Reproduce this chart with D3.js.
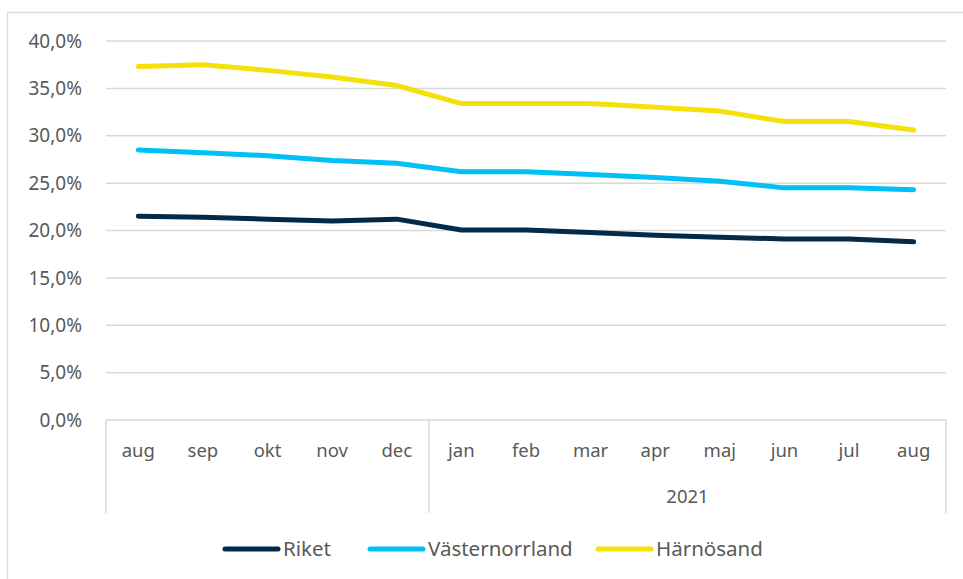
<!DOCTYPE html>
<html>
<head>
<meta charset="utf-8">
<script src="https://cdn.jsdelivr.net/npm/d3@7"></script>
<style>
  body { margin: 0; background: #fff; }
  text { font-family: "Noto Sans", "Open Sans", sans-serif; fill: #595959; }
</style>
</head>
<body>
<svg id="chart"></svg>
<script>
// --- Data ---
const months = ["aug", "sep", "okt", "nov", "dec", "jan", "feb", "mar", "apr", "maj", "jun", "jul", "aug"];
const yearGroups = [
  { label: "", start: 0, end: 5 },
  { label: "2021", start: 5, end: 13 }
];
const riket = [21.5, 21.4, 21.2, 21.0, 21.2, 20.05, 20.05, 19.8, 19.5, 19.3, 19.1, 19.1, 18.8];
const vasternorrland = [28.5, 28.2, 27.9, 27.4, 27.1, 26.2, 26.2, 25.9, 25.6, 25.2, 24.5, 24.5, 24.3];
const harnosand = [37.3, 37.5, 36.9, 36.2, 35.3, 33.4, 33.4, 33.4, 33.0, 32.6, 31.5, 31.5, 30.6];
const yTicks = [0, 5, 10, 15, 20, 25, 30, 35, 40];

const series = [
  { name: "Riket", values: riket, color: "#032a48" },
  { name: "Västernorrland", values: vasternorrland, color: "#00c1f5" },
  { name: "Härnösand", values: harnosand, color: "#f5e00a" }
];

// --- Setup ---
const width = 963, height = 579;
const plot = { left: 106, right: 946, top: 41, bottom: 420 };
const catBottom = 513;

const svg = d3.select("#chart").attr("width", width).attr("height", height);

// outer chart border
svg.append("rect")
  .attr("x", 7.5).attr("y", 12.5)
  .attr("width", 1000).attr("height", 700)
  .attr("fill", "none").attr("stroke", "#d9d9d9").attr("stroke-width", 1.3);

const x = d3.scaleBand().domain(d3.range(months.length)).range([plot.left, plot.right]);
const y = d3.scaleLinear().domain([0, 40]).range([plot.bottom, plot.top]);

// gridlines
svg.append("g")
  .selectAll("line")
  .data(yTicks.filter(d => d > 0))
  .enter().append("line")
  .attr("x1", plot.left).attr("x2", plot.right)
  .attr("y1", d => y(d)).attr("y2", d => y(d))
  .attr("stroke", "#d9d9d9").attr("stroke-width", 1.5);

// y tick labels
const fmt = d => d.toFixed(1).replace(".", ",") + "%";
svg.append("g")
  .selectAll("text")
  .data(yTicks)
  .enter().append("text")
  .attr("x", 82).attr("y", d => y(d))
  .attr("dy", "0.35em")
  .attr("text-anchor", "end")
  .style("font-size", "19px")
  .text(fmt);

// category axis: baseline + group dividers
const axisG = svg.append("g").attr("stroke", "#d9d9d9").attr("stroke-width", 1.5);
axisG.append("line")
  .attr("x1", plot.left).attr("x2", plot.right)
  .attr("y1", plot.bottom).attr("y2", plot.bottom);
const dividers = [0, 5, 13].map(i => i === months.length ? x.range()[1] : x(i));
axisG.selectAll(".div")
  .data(dividers)
  .enter().append("line")
  .attr("x1", d => d).attr("x2", d => d)
  .attr("y1", plot.bottom).attr("y2", catBottom);

// month labels
svg.append("g")
  .selectAll("text")
  .data(months)
  .enter().append("text")
  .attr("x", (d, i) => x(i) + x.bandwidth() / 2)
  .attr("y", 451)
  .attr("dy", "0.35em")
  .attr("text-anchor", "middle")
  .style("font-size", "18.5px")
  .text(d => d);

// year labels
svg.append("g")
  .selectAll("text")
  .data(yearGroups.filter(g => g.label))
  .enter().append("text")
  .attr("x", g => (x(g.start) + (g.end === months.length ? x.range()[1] : x(g.end))) / 2)
  .attr("y", 497)
  .attr("dy", "0.35em")
  .attr("text-anchor", "middle")
  .style("font-size", "18.5px")
  .text(g => g.label);

// lines
const line = d3.line()
  .x((d, i) => x(i) + x.bandwidth() / 2)
  .y(d => y(d));

svg.append("g")
  .selectAll("path")
  .data(series)
  .enter().append("path")
  .attr("d", s => line(s.values))
  .attr("fill", "none")
  .attr("stroke", s => s.color)
  .attr("stroke-width", 5)
  .attr("stroke-linecap", "round")
  .attr("stroke-linejoin", "round");

// legend
const legendPos = [225, 370, 598];
const legend = svg.append("g")
  .selectAll("g")
  .data(series)
  .enter().append("g")
  .attr("transform", (s, i) => `translate(${legendPos[i]},549)`);
legend.append("line")
  .attr("x1", 0).attr("x2", 53)
  .attr("stroke", s => s.color)
  .attr("stroke-width", 5)
  .attr("stroke-linecap", "round");
legend.append("text")
  .attr("x", 58)
  .attr("dy", "0.35em")
  .style("font-size", "20.5px")
  .text(s => s.name);
</script>
</body>
</html>
